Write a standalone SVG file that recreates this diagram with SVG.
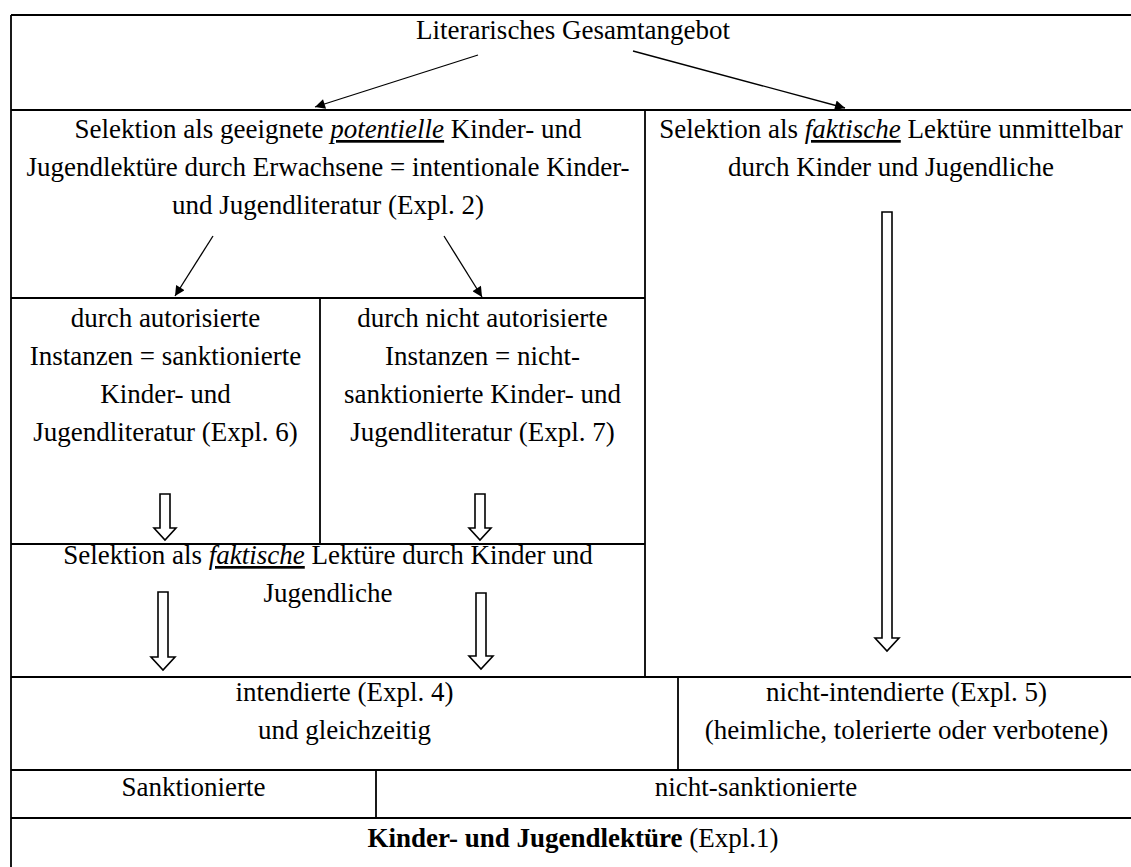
<svg xmlns="http://www.w3.org/2000/svg" width="1131" height="867" viewBox="0 0 1131 867">
<defs>
<style>
text{font-family:'Liberation Serif','Tinos','Times New Roman','DejaVu Serif',serif;font-size:27px;fill:#000;text-anchor:middle}
.u{font-style:italic;text-decoration:underline}
.b{font-weight:bold}
.grid{stroke:#000;stroke-width:1.8;fill:none}
.thin{stroke:#000;stroke-width:1.3;fill:none}
.hollow{fill:#fff;stroke:#000;stroke-width:1.6;stroke-linejoin:miter}
</style>
<marker id="ah" viewBox="0 0 10 10" refX="10" refY="5" markerWidth="12" markerHeight="10" markerUnits="userSpaceOnUse" orient="auto"><path d="M0,0 L10,5 L0,10 Z" fill="#000"/></marker>
</defs>
<rect width="1131" height="867" fill="#fff"/>
<g id="table" class="grid">
<line x1="11" y1="15" x2="1131" y2="15"/>
<line x1="11" y1="110" x2="1131" y2="110"/>
<line x1="11" y1="298" x2="645" y2="298"/>
<line x1="11" y1="544" x2="645" y2="544"/>
<line x1="11" y1="677" x2="1131" y2="677"/>
<line x1="11" y1="770" x2="1131" y2="770"/>
<line x1="11" y1="818" x2="1131" y2="818"/>
<line x1="11" y1="15" x2="11" y2="867"/>
<line x1="645" y1="110" x2="645" y2="677"/>
<line x1="320" y1="298" x2="320" y2="544"/>
<line x1="678" y1="677" x2="678" y2="770"/>
<line x1="376" y1="770" x2="376" y2="818"/>
</g>
<g id="n-gesamtangebot" font-family="Liberation Serif, Times New Roman, serif"><text x="573" y="39">Literarisches Gesamtangebot</text></g>
<g id="n-potentielle" font-family="Liberation Serif, Times New Roman, serif">
<text x="328" y="138">Selektion als geeignete <tspan class="u">potentielle</tspan> Kinder- und</text>
<text x="328" y="176">Jugendlektüre durch Erwachsene = intentionale Kinder-</text>
<text x="328" y="214">und Jugendliteratur (Expl. 2)</text>
</g>
<g id="n-faktisch-unmittelbar">
<text x="891" y="138">Selektion als <tspan class="u">faktische</tspan> Lektüre unmittelbar</text>
<text x="891" y="176">durch Kinder und Jugendliche</text>
</g>
<g id="n-autorisiert">
<text x="165.5" y="327">durch autorisierte</text>
<text x="165.5" y="365">Instanzen = sanktionierte</text>
<text x="165.5" y="403">Kinder- und</text>
<text x="165.5" y="441">Jugendliteratur (Expl. 6)</text>
</g>
<g id="n-nicht-autorisiert">
<text x="482.5" y="327">durch nicht autorisierte</text>
<text x="482.5" y="365">Instanzen = nicht-</text>
<text x="482.5" y="403">sanktionierte Kinder- und</text>
<text x="482.5" y="441">Jugendliteratur (Expl. 7)</text>
</g>
<g id="n-faktisch">
<text x="328" y="564">Selektion als <tspan class="u">faktische</tspan> Lektüre durch Kinder und</text>
<text x="328" y="602">Jugendliche</text>
</g>
<g id="n-intendiert">
<text x="344.5" y="701">intendierte (Expl. 4)</text>
<text x="344.5" y="739">und gleichzeitig</text>
</g>
<g id="n-nicht-intendiert">
<text x="906.5" y="701">nicht-intendierte (Expl. 5)</text>
<text x="906.5" y="739">(heimliche, tolerierte oder verbotene)</text>
</g>
<g id="n-sanktioniert"><text x="193.5" y="796">Sanktionierte</text></g>
<g id="n-nicht-sanktioniert"><text x="756" y="796">nicht-sanktionierte</text></g>
<g id="n-kjl"><text x="573" y="847"><tspan class="b">Kinder- und Jugendlektüre</tspan> (Expl.1)</text></g>
<g id="connectors">
<line class="thin" x1="478" y1="55" x2="315" y2="107" marker-end="url(#ah)"/>
<line class="thin" x1="633" y1="51" x2="845" y2="108" marker-end="url(#ah)"/>
<line class="thin" x1="213" y1="236" x2="175" y2="296" marker-end="url(#ah)"/>
<line class="thin" x1="444" y1="236" x2="482" y2="297" marker-end="url(#ah)"/>
<path class="hollow" d="M160,494 L170,494 L170,528 L176,528 L165,540 L154,528 L160,528 Z"/>
<path class="hollow" d="M475,494 L485,494 L485,528 L491,528 L480,540 L469,528 L475,528 Z"/>
<path class="hollow" d="M158,592 L168,592 L168,657 L175,657 L163,670 L151,657 L158,657 Z"/>
<path class="hollow" d="M476,593 L486,593 L486,656 L493,656 L481,669 L469,656 L476,656 Z"/>
<path class="hollow" d="M882,212 L892,212 L892,638 L899,638 L887,651 L875,638 L882,638 Z"/>
</g>
</svg>
